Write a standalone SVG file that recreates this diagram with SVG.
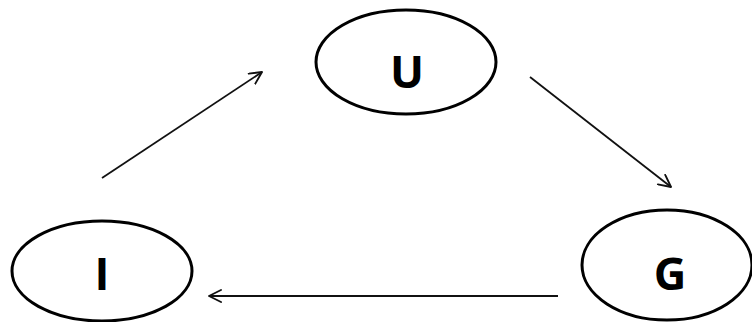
<svg xmlns="http://www.w3.org/2000/svg" width="752" height="322" viewBox="0 0 752 322">
<style>
.node ellipse{fill:#fff;stroke:#000;stroke-width:3}
.node text{font-family:"Open Sans","Liberation Sans",sans-serif;font-weight:bold;font-size:45px;fill:#000;text-anchor:middle}
.edge{stroke:#111;stroke-width:1.8;fill:none;marker-end:url(#arr)}
</style>
<defs>
<marker id="arr" viewBox="0 0 14 14" refX="13" refY="7" markerWidth="14" markerHeight="14" markerUnits="userSpaceOnUse" orient="auto">
<path d="M1,1 L13,7 L1,13" fill="none" stroke="#111" stroke-width="1.9" stroke-linecap="round" stroke-linejoin="round"/>
</marker>
</defs>
<g id="connectors">
<line class="edge" x1="102" y1="178" x2="262" y2="72"/>
<line class="edge" x1="530" y1="77" x2="671" y2="187"/>
<line class="edge" x1="558" y1="296" x2="209" y2="296"/>
</g>
<g id="node-U" class="node">
<ellipse cx="406" cy="62" rx="90" ry="52"/>
<text x="407" y="88">U</text>
</g>
<g id="node-I" class="node">
<ellipse cx="102" cy="271" rx="90" ry="50"/>
<text x="102" y="290">I</text>
</g>
<g id="node-G" class="node">
<ellipse cx="667" cy="265" rx="85" ry="55"/>
<text x="670" y="290">G</text>
</g>
</svg>
